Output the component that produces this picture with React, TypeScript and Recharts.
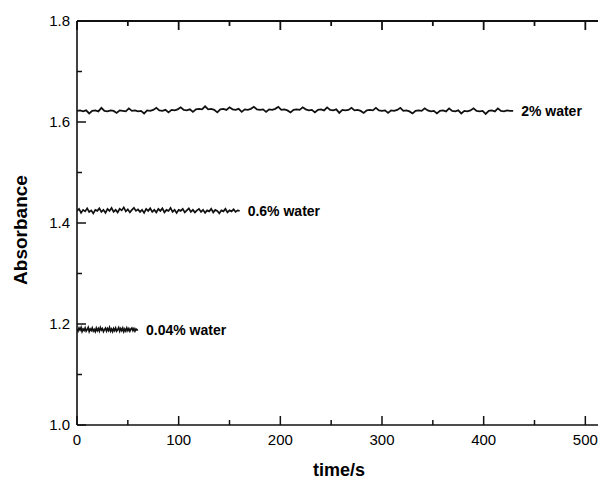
import { LineChart, Line, XAxis, YAxis } from "recharts";

// sampling steps (s) of each recorded trace
const step2 = 3;
const step06 = 2;
const step004 = 1;

const water2 = [
  1.622, 1.623, 1.621, 1.623, 1.617, 1.622, 1.623, 1.621, 1.628, 1.622, 1.621, 1.623, 1.622, 1.618, 1.623, 1.622, 1.621, 1.627, 1.622, 1.623,
  1.621, 1.622, 1.617, 1.623, 1.622, 1.624, 1.628, 1.623, 1.622, 1.624, 1.619, 1.624, 1.623, 1.625, 1.629, 1.624, 1.623, 1.625, 1.620, 1.625,
  1.626, 1.625, 1.631, 1.625, 1.626, 1.624, 1.619, 1.625, 1.626, 1.624, 1.629, 1.625, 1.624, 1.626, 1.620, 1.625, 1.624, 1.626, 1.630, 1.625,
  1.624, 1.625, 1.620, 1.625, 1.624, 1.626, 1.630, 1.624, 1.625, 1.623, 1.619, 1.624, 1.625, 1.624, 1.629, 1.625, 1.623, 1.624, 1.619, 1.624,
  1.625, 1.623, 1.629, 1.624, 1.623, 1.625, 1.618, 1.624, 1.623, 1.624, 1.628, 1.623, 1.624, 1.622, 1.618, 1.623, 1.624, 1.623, 1.628, 1.623,
  1.622, 1.623, 1.618, 1.623, 1.622, 1.624, 1.628, 1.622, 1.623, 1.621, 1.617, 1.622, 1.623, 1.622, 1.627, 1.623, 1.621, 1.622, 1.617, 1.622,
  1.623, 1.621, 1.627, 1.622, 1.621, 1.623, 1.617, 1.622, 1.621, 1.623, 1.627, 1.622, 1.621, 1.622, 1.616, 1.622, 1.623, 1.621, 1.627, 1.622,
  1.621, 1.623, 1.622, 1.622,
];

const water06 = [
  1.424, 1.428, 1.420, 1.426, 1.423, 1.429, 1.422, 1.425, 1.419, 1.426, 1.424, 1.429, 1.422, 1.426, 1.420, 1.428, 1.424, 1.430, 1.422, 1.426,
  1.421, 1.428, 1.425, 1.431, 1.423, 1.427, 1.421, 1.426, 1.430, 1.424, 1.427, 1.422, 1.426, 1.420, 1.428, 1.424, 1.429, 1.422, 1.426, 1.421,
  1.428, 1.424, 1.429, 1.421, 1.426, 1.424, 1.430, 1.422, 1.426, 1.420, 1.426, 1.424, 1.428, 1.421, 1.425, 1.429, 1.422, 1.426, 1.421, 1.425,
  1.428, 1.422, 1.426, 1.420, 1.425, 1.423, 1.428, 1.421, 1.426, 1.424, 1.419, 1.425, 1.423, 1.428, 1.421, 1.425, 1.423, 1.427, 1.422, 1.425,
  1.424,
];

const water004 = [
  1.190, 1.186, 1.192, 1.188, 1.193, 1.185, 1.190, 1.187, 1.192, 1.186, 1.189, 1.193, 1.185, 1.190, 1.187, 1.192, 1.186, 1.189, 1.185, 1.192,
  1.187, 1.191, 1.186, 1.193, 1.188, 1.191, 1.185, 1.189, 1.192, 1.186, 1.191, 1.187, 1.193, 1.186, 1.190, 1.185, 1.191, 1.187, 1.192, 1.186,
  1.189, 1.193, 1.186, 1.191, 1.187, 1.192, 1.185, 1.190, 1.186, 1.192, 1.187, 1.191, 1.186, 1.190, 1.192, 1.187, 1.191, 1.186, 1.190, 1.188,
  1.189,
];

const xTicks = [0, 50, 100, 150, 200, 250, 300, 350, 400, 450, 500];
const yTicks = [1.0, 1.1, 1.2, 1.3, 1.4, 1.5, 1.6, 1.7, 1.8];
const xDomain: [number, number] = [0, 540];
const yDomain: [number, number] = [1.0, 1.8];

const toRows = (vals: number[], step: number) => vals.map((v, i) => ({ t: i * step, a: v }));

const rows2 = toRows(water2, step2);
const rows06 = toRows(water06, step06);
const rows004 = toRows(water004, step004);

const font = "'Liberation Sans', Arial, sans-serif";
const ink = "#111";
const tiny = 0.001; // recharts treats 0 as "use default", so keep tick offsets near zero
const axisStroke = { stroke: ink, strokeWidth: 1.6 };
const topStroke = { stroke: ink, strokeWidth: 2 };

const isMajorX = (v: number) => v % 100 === 0;
const isMajorY = (v: number) => Math.round(v * 10) % 2 === 0;

function BottomTick({ x, y, payload }: any) {
  const major = isMajorX(payload.value);
  return (
    <g>
      <line x1={x} x2={x} y1={y} y2={y - (major ? 9 : 5)} stroke={ink} strokeWidth={1.5} />
      {major && (
        <text x={x} y={y + 20} textAnchor="middle" fontSize={15} fontFamily={font} fill="#000">
          {payload.value}
        </text>
      )}
    </g>
  );
}

function TopTick({ x, y, payload }: any) {
  const major = isMajorX(payload.value);
  return <line x1={x} x2={x} y1={y} y2={y + (major ? 9 : 5)} stroke={ink} strokeWidth={1.8} />;
}

function LeftTick({ x, y, payload }: any) {
  const major = isMajorY(payload.value);
  return (
    <g>
      <line x1={x} x2={x + (major ? 9 : 5)} y1={y} y2={y} stroke={ink} strokeWidth={1.5} />
      {major && (
        <text x={x - 7} y={y + 5} textAnchor="end" fontSize={15} fontFamily={font} fill="#000">
          {payload.value.toFixed(1)}
        </text>
      )}
    </g>
  );
}

const endLabel = (text: string, last: number) => (props: any) => {
  if (props.index !== last) return <g />;
  return (
    <text x={props.x + 8} y={props.y + 5} fontSize={14} fontWeight="bold" fontFamily={font} fill="#000">
      {text}
    </text>
  );
};

export default function App() {
  return (
    <div style={{ position: "absolute", left: 0, top: 0, width: 598, height: 482, overflow: "hidden", background: "#fff" }}>
      <LineChart width={636} height={482} margin={{ top: 10, right: 10, left: 0, bottom: 0 }}>
        <XAxis
          xAxisId="bottom"
          dataKey="t"
          type="number"
          domain={xDomain}
          ticks={xTicks}
          allowDataOverflow
          height={57}
          tickSize={tiny}
          tickMargin={tiny}
          tick={<BottomTick />}
          axisLine={axisStroke}
          label={{
            content: () => (
              <text x={339} y={476} textAnchor="middle" fontSize={18} fontWeight="bold" fontFamily={font} fill="#000">
                time/s
              </text>
            ),
          }}
        />
        <XAxis
          xAxisId="top"
          orientation="top"
          dataKey="t"
          type="number"
          domain={xDomain}
          ticks={xTicks}
          allowDataOverflow
          height={11}
          tickSize={tiny}
          tickMargin={tiny}
          tick={<TopTick />}
          axisLine={topStroke}
        />
        <YAxis
          type="number"
          domain={yDomain}
          ticks={yTicks}
          allowDataOverflow
          width={77}
          tickSize={tiny}
          tickMargin={tiny}
          tick={<LeftTick />}
          axisLine={axisStroke}
          label={{
            content: () => (
              <text
                x={0}
                y={0}
                transform="translate(27 230) rotate(-90)"
                textAnchor="middle"
                fontSize={19}
                fontWeight="bold"
                fontFamily={font}
                fill="#000"
              >
                Absorbance
              </text>
            ),
          }}
        />
        {/* the 2% trace sits on the top axis (same domain) so that axis is drawn */}
        <Line
          xAxisId="top"
          data={rows2}
          dataKey="a"
          type="linear"
          stroke={ink}
          strokeWidth={1.8}
          dot={false}
          isAnimationActive={false}
          label={endLabel("2% water", rows2.length - 1)}
        />
        <Line
          xAxisId="bottom"
          data={rows06}
          dataKey="a"
          type="linear"
          stroke={ink}
          strokeWidth={1.7}
          dot={false}
          isAnimationActive={false}
          label={endLabel("0.6% water", rows06.length - 1)}
        />
        <Line
          xAxisId="bottom"
          data={rows004}
          dataKey="a"
          type="linear"
          stroke={ink}
          strokeWidth={1.7}
          dot={false}
          isAnimationActive={false}
          label={endLabel("0.04% water", rows004.length - 1)}
        />
      </LineChart>
    </div>
  );
}
